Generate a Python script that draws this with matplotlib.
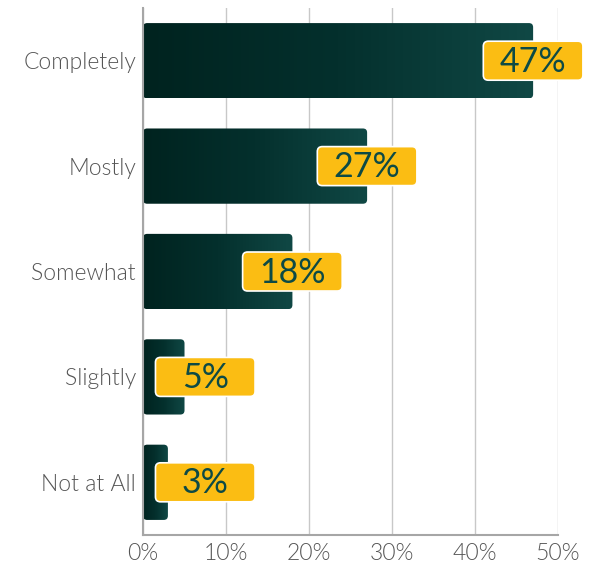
import matplotlib
matplotlib.use("Agg")
import numpy as np
import matplotlib.pyplot as plt
from matplotlib.patches import FancyBboxPatch
from matplotlib.colors import LinearSegmentedColormap

categories = ["Completely", "Mostly", "Somewhat", "Slightly", "Not at All"]
values = [47, 27, 18, 5, 3]
ticks = [0, 10, 20, 30, 40, 50]

plt.rcParams["font.family"] = ["Lato", "DejaVu Sans"]

bar_cmap = LinearSegmentedColormap.from_list("bar", ["#00231f", "#04302d", "#104845"])
label_yellow = "#fbbd13"
label_text = "#0d4a45"

fig = plt.figure(figsize=(5.89, 5.68), dpi=100)
ax = fig.add_axes([0.2428, 0.0581, 0.7046, 0.9278])
ax.set_xlim(0, 50)
ax.set_ylim(4.5, -0.5)

# ratio of one y unit to one x unit in pixels, so rounded corners stay round
aspect = 0.079
bar_h = 0.714
box_w = 12.0
box_h = 0.37
grad = np.linspace(0, 1, 256).reshape(1, -1)
for i, v in enumerate(values):
    patch = FancyBboxPatch((0, i - bar_h / 2), v, bar_h,
                           boxstyle="round,pad=0,rounding_size=0.5",
                           mutation_aspect=aspect, linewidth=0,
                           facecolor="none", zorder=2)
    ax.add_patch(patch)
    im = ax.imshow(grad, cmap=bar_cmap, aspect="auto",
                   extent=(0, v, i + bar_h / 2, i - bar_h / 2), zorder=2)
    im.set_clip_path(patch)

    # value label box, kept clear of the axis for short bars
    left = max(v - box_w / 2, 1.5)
    box = FancyBboxPatch((left, i - box_h / 2), box_w, box_h,
                         boxstyle="round,pad=0,rounding_size=0.6",
                         mutation_aspect=aspect, fc=label_yellow,
                         ec="white", lw=1.2, zorder=4, clip_on=False)
    ax.add_patch(box)
    ax.text(left + box_w / 2, i + 0.01, f"{v}%", ha="center", va="center",
            fontsize=24.5, color=label_text, zorder=5, clip_on=False)

ax.set_xticks(ticks)
ax.set_xticklabels([f"{t}%" for t in ticks])
ax.set_yticks(range(len(categories)))
ax.set_yticklabels(categories)
ax.tick_params(axis="both", length=0, labelsize=16.5, labelcolor="#555555")
ax.tick_params(axis="x", pad=6)
ax.tick_params(axis="y", pad=5)
for lbl in ax.get_xticklabels() + ax.get_yticklabels():
    lbl.set_fontweight(300)

ax.grid(axis="x", color="#c8c8c8", linewidth=1, zorder=0)
ax.set_axisbelow(True)
for s in ["top", "right"]:
    ax.spines[s].set_visible(False)
for s in ["left", "bottom"]:
    ax.spines[s].set_color("#a6a6a6")
    ax.spines[s].set_linewidth(1.5)
    ax.spines[s].set_zorder(3)

fig.savefig("out.png", dpi=100)
